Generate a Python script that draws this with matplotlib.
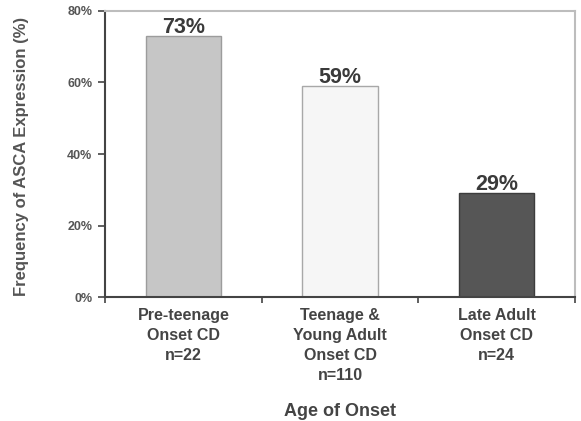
import matplotlib
matplotlib.use("Agg")
import matplotlib.pyplot as plt
from matplotlib.ticker import FixedLocator, FuncFormatter

plt.rcParams["font.family"] = ["Liberation Sans", "DejaVu Sans"]

# Data
categories = ["Pre-teenage\nOnset CD\nn=22",
              "Teenage &\nYoung Adult\nOnset CD\nn=110",
              "Late Adult\nOnset CD\nn=24"]
values = [73, 59, 29]
value_labels = ["73%", "59%", "29%"]
y_ticks = [0, 20, 40, 60, 80]

bar_colors = ["#c6c6c6", "#f6f6f6", "#565656"]
edge_colors = ["#9c9c9c", "#a8a8a8", "#3c3c3c"]

fig = plt.figure(figsize=(5.81, 4.21), dpi=100)
ax = fig.add_axes([0.1807, 0.2945, 0.809, 0.6794])

x = list(range(len(values)))
bars = ax.bar(x, values, width=0.48, color=bar_colors,
              edgecolor=edge_colors, linewidth=1.0, zorder=2)

for xi, v, lab in zip(x, values, value_labels):
    ax.annotate(lab, (xi, v), xytext=(0, 2.5), textcoords="offset points",
                ha="center", va="baseline", fontsize=15.5, fontweight="bold",
                color="#3a3a3a")

ax.set_xlim(-0.5, 2.5)
ax.set_ylim(0, 80)

ax.set_yticks(y_ticks)
ax.yaxis.set_major_formatter(FuncFormatter(lambda v, p: f"{int(v)}%"))
ax.tick_params(axis="y", direction="out", length=5, width=1.2, color="#444444",
               labelsize=9, labelcolor="#555555", pad=4)
for t in ax.get_yticklabels():
    t.set_fontweight("bold")

ax.set_xticks(x)
ax.set_xticklabels(categories, fontsize=11.5, fontweight="bold",
                   color="#444444", linespacing=1.42)
ax.tick_params(axis="x", which="major", length=0, pad=8)
ax.xaxis.set_minor_locator(FixedLocator([-0.5, 0.5, 1.5, 2.5]))
ax.tick_params(axis="x", which="minor", direction="out", length=4,
               width=1.2, color="#444444")

for side in ("left", "bottom"):
    ax.spines[side].set_color("#444444")
    ax.spines[side].set_linewidth(1.5)
for side in ("top", "right"):
    ax.spines[side].set_color("#bdbdbd")
    ax.spines[side].set_linewidth(1.5)

ax.set_ylabel("Frequency of ASCA Expression (%)", fontsize=12,
              fontweight="bold", color="#555555")
ax.yaxis.set_label_coords(-0.161, 0.49)
ax.set_xlabel("Age of Onset", fontsize=13, fontweight="bold",
              color="#444444", labelpad=14)

fig.savefig("out.png", dpi=100)
